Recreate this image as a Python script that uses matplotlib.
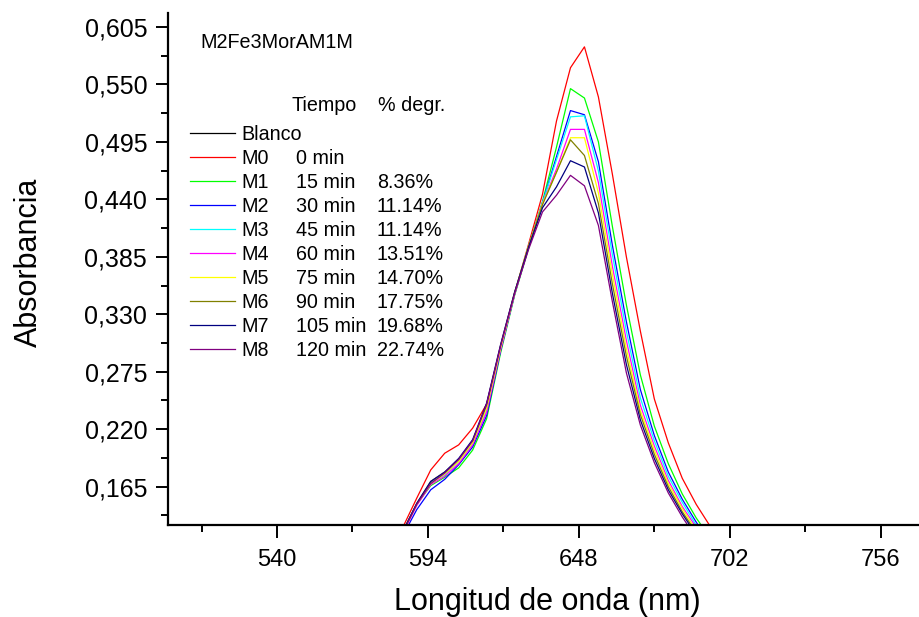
import matplotlib
matplotlib.use("Agg")
import matplotlib.pyplot as plt
from matplotlib.ticker import FixedLocator, FuncFormatter

plt.rcParams["font.family"] = ["Liberation Sans", "DejaVu Sans"]

# wavelength grid (nm)
wavelength = [580, 585, 590, 595, 600, 605, 610, 615, 620, 625, 630, 635, 640,
              645, 650, 655, 660, 665, 670, 675, 680, 685, 690, 695, 700, 705]

# absorbance spectra
blanco = [0.004, 0.004, 0.005, 0.005, 0.005, 0.006, 0.006, 0.006, 0.007, 0.007,
          0.007, 0.007, 0.008, 0.008, 0.008, 0.007, 0.007, 0.007, 0.006, 0.006,
          0.006, 0.005, 0.005, 0.005, 0.004, 0.004]
m0 = [0.100, 0.126, 0.154, 0.181, 0.197, 0.205, 0.221, 0.244, 0.298, 0.350,
      0.397, 0.445, 0.515, 0.566, 0.586, 0.538, 0.464, 0.385, 0.314, 0.249,
      0.207, 0.173, 0.148, 0.127, 0.108, 0.093]
m1 = [0.095, 0.122, 0.148, 0.166, 0.174, 0.183, 0.200, 0.230, 0.293, 0.348,
      0.393, 0.438, 0.490, 0.546, 0.537, 0.495, 0.414, 0.339, 0.272, 0.223,
      0.187, 0.158, 0.135, 0.116, 0.098, 0.085]
m2 = [0.092, 0.118, 0.143, 0.162, 0.172, 0.186, 0.203, 0.233, 0.295, 0.349,
      0.394, 0.437, 0.481, 0.525, 0.521, 0.476, 0.396, 0.323, 0.258, 0.214,
      0.179, 0.153, 0.131, 0.111, 0.094, 0.082]
m3 = [0.095, 0.121, 0.148, 0.169, 0.176, 0.189, 0.206, 0.238, 0.297, 0.350,
      0.395, 0.437, 0.478, 0.519, 0.520, 0.467, 0.387, 0.314, 0.250, 0.209,
      0.175, 0.150, 0.128, 0.109, 0.093, 0.081]
m4 = [0.094, 0.120, 0.147, 0.167, 0.175, 0.187, 0.205, 0.236, 0.296, 0.349,
      0.394, 0.436, 0.469, 0.507, 0.507, 0.456, 0.376, 0.305, 0.243, 0.204,
      0.171, 0.146, 0.126, 0.107, 0.091, 0.080]
m5 = [0.095, 0.121, 0.148, 0.168, 0.177, 0.189, 0.207, 0.240, 0.298, 0.350,
      0.395, 0.436, 0.466, 0.499, 0.499, 0.446, 0.368, 0.297, 0.238, 0.200,
      0.168, 0.144, 0.123, 0.105, 0.090, 0.079]
m6 = [0.096, 0.122, 0.149, 0.170, 0.179, 0.191, 0.209, 0.243, 0.300, 0.351,
      0.395, 0.435, 0.466, 0.497, 0.482, 0.436, 0.359, 0.290, 0.234, 0.196,
      0.165, 0.141, 0.121, 0.103, 0.088, 0.078]
m7 = [0.096, 0.122, 0.149, 0.170, 0.179, 0.192, 0.210, 0.245, 0.301, 0.351,
      0.394, 0.432, 0.452, 0.477, 0.471, 0.427, 0.350, 0.282, 0.229, 0.192,
      0.162, 0.139, 0.119, 0.101, 0.087, 0.077]
m8 = [0.095, 0.121, 0.148, 0.168, 0.178, 0.191, 0.209, 0.244, 0.300, 0.350,
      0.392, 0.428, 0.444, 0.463, 0.453, 0.415, 0.342, 0.274, 0.224, 0.188,
      0.159, 0.136, 0.116, 0.100, 0.085, 0.075]

series = [blanco, m0, m1, m2, m3, m4, m5, m6, m7, m8]
names = ["Blanco", "M0", "M1", "M2", "M3", "M4", "M5", "M6", "M7", "M8"]
times = ["", "0 min", "15 min", "30 min", "45 min", "60 min", "75 min",
         "90 min", "105 min", "120 min"]
degr = ["", "", "8.36%", "11.14%", "11.14%", "13.51%", "14.70%", "17.75%",
        "19.68%", "22.74%"]
colors = ["#000000", "#FF0000", "#00FF00", "#0000FF", "#00FFFF", "#FF00FF",
          "#FFFF00", "#808000", "#000080", "#800080"]

x_ticks = [540, 594, 648, 702, 756]
y_ticks = [0.165, 0.220, 0.275, 0.330, 0.385, 0.440, 0.495, 0.550, 0.605]

fig = plt.figure(figsize=(9.19, 6.17), dpi=100)
ax = fig.add_axes([168 / 919, 92 / 617, 751 / 919, 512 / 617])

handles = []
for vals, name, col in zip(series, names, colors):
    ln, = ax.plot(wavelength, vals, color=col, lw=0.9, label=name)
    handles.append(ln)

ax.set_xlim(501, 769.7)
ax.set_ylim(0.1283, 0.6184)

ax.xaxis.set_major_locator(FixedLocator(x_ticks))
ax.xaxis.set_minor_locator(FixedLocator([t + 27 for t in [486] + x_ticks]))
ax.yaxis.set_major_locator(FixedLocator(y_ticks))
ax.yaxis.set_minor_locator(FixedLocator([t + 0.0275 for t in [0.110] + y_ticks]))
ax.yaxis.set_major_formatter(FuncFormatter(lambda v, p: f"{v:.3f}".replace(".", ",")))

for s in ["top", "right"]:
    ax.spines[s].set_visible(False)
for s in ["left", "bottom"]:
    ax.spines[s].set_linewidth(1.6)
ax.tick_params(which="major", direction="out", length=9, width=1.4, pad=6)
ax.tick_params(which="minor", direction="out", length=5, width=1.4)
ax.tick_params(axis="x", which="major", pad=8, labelsize=17)
ax.tick_params(axis="y", which="major", labelsize=18)

ax.set_xlabel("Longitud de onda (nm)", fontsize=22)
ax.set_ylabel("Absorbancia", fontsize=22)
ax.xaxis.set_label_coords((547 - 168) / 751, (525 - 587) / 512)
ax.yaxis.set_label_coords((44 - 168) / 751, (525 - 262) / 512)

lfs = 14.2
ax.text(0.043, 0.943, "M2Fe3MorAM1M", transform=ax.transAxes, fontsize=lfs,
        va="center", ha="left")

leg = ax.legend(handles=handles, labels=names, loc="upper left",
                bbox_to_anchor=(0.0293, 0.781), frameon=False, borderpad=0,
                borderaxespad=0, fontsize=lfs, handlelength=2.28,
                handletextpad=0.3, labelspacing=0.255)
for h in leg.get_lines():
    h.set_linewidth(0.9)

fig.canvas.draw()
inv = ax.transAxes.inverted()
col_time = (296 - 168) / 751
col_pct = (377 - 168) / 751
for txt, t, d in zip(leg.get_texts(), times, degr):
    bb = txt.get_window_extent()
    _, yc = inv.transform((0, (bb.y0 + bb.y1) / 2))
    if t:
        ax.text(col_time, yc, t, transform=ax.transAxes, fontsize=lfs,
                va="center", ha="left")
    if d:
        ax.text(col_pct, yc, d, transform=ax.transAxes, fontsize=lfs,
                va="center", ha="left")

first = leg.get_texts()[0].get_window_extent()
_, yh = inv.transform((0, (first.y0 + first.y1) / 2 + 29))
ax.text((292 - 168) / 751, yh, "Tiempo", transform=ax.transAxes, fontsize=lfs,
        va="center", ha="left")
ax.text((378 - 168) / 751, yh, "% degr.", transform=ax.transAxes, fontsize=lfs,
        va="center", ha="left")

fig.savefig("out.png", dpi=100)
